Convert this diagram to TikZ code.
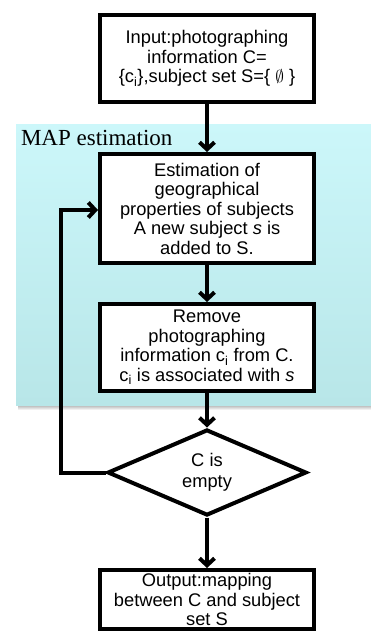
\documentclass[tikz,border=0pt]{standalone}
\usepackage{fontspec}
\setmainfont{Liberation Sans}
\newfontfamily\mapfont{Liberation Serif}
\usetikzlibrary{shapes.geometric,arrows.meta}

\begin{document}
\begin{tikzpicture}[x=1pt, y=-1pt, line width=4pt,
		>={Straight Barb[length=7pt,width=15pt]},
		box/.style={draw, fill=white, align=center, inner sep=0pt, minimum width=214pt,
			font=\fontsize{18.3}{19.5}\selectfont},
		chk/.style={draw, fill=white, shape=diamond, aspect=2.3, inner sep=0pt,
			minimum width=199pt, minimum height=86pt, align=center,
			font=\fontsize{18.3}{21}\selectfont}]
	\useasboundingbox (0,0) rectangle (371,632);
	% MAP region
	\fill[top color=black!30, bottom color=white] (18,405) rectangle (371,410);
	\fill[top color={rgb,255:red,204;green,247;blue,250}, bottom color={rgb,255:red,184;green,230;blue,232}]
	(16,124) rectangle (371,405);
	\node[anchor=base west, inner sep=0pt, font=\mapfont\fontsize{23}{26}\selectfont] (map) at (19,145) {MAP estimation};
	% steps
	\node[box, minimum height=87pt] (inp) at (207,58.5) {Input:photographing\\information C=\\\{c\textsubscript{i}\},subject set S=\{ $\emptyset$ \}};
	\node[box, minimum height=109pt] (est) at (207,208.5) {Estimation of\\geographical\\properties of subjects\\A new subject \textit{s} is\\added to S.};
	\node[box, minimum height=87pt] (rem) at (207,347.5) {Remove\\photographing\\information c\textsubscript{i} from C.\\c\textsubscript{i} is associated with \textit{s}};
	\node[chk] (empty) at (207,472.5) {C is\\empty};
	\node[box, minimum height=59pt] (out) at (207,599.5) {Output:mapping\\between C and subject\\set S};
	% arrows
	\draw[->] (inp) -- (est);
	\draw[->] (est) -- (rem);
	\draw[->] (rem) -- (empty);
	\draw[->] (empty) -- (out);
	\coordinate (back) at (61,210);
	\draw[->] (empty.west) -| (back) -- (est.west |- back); % loop back
\end{tikzpicture}
\end{document}
